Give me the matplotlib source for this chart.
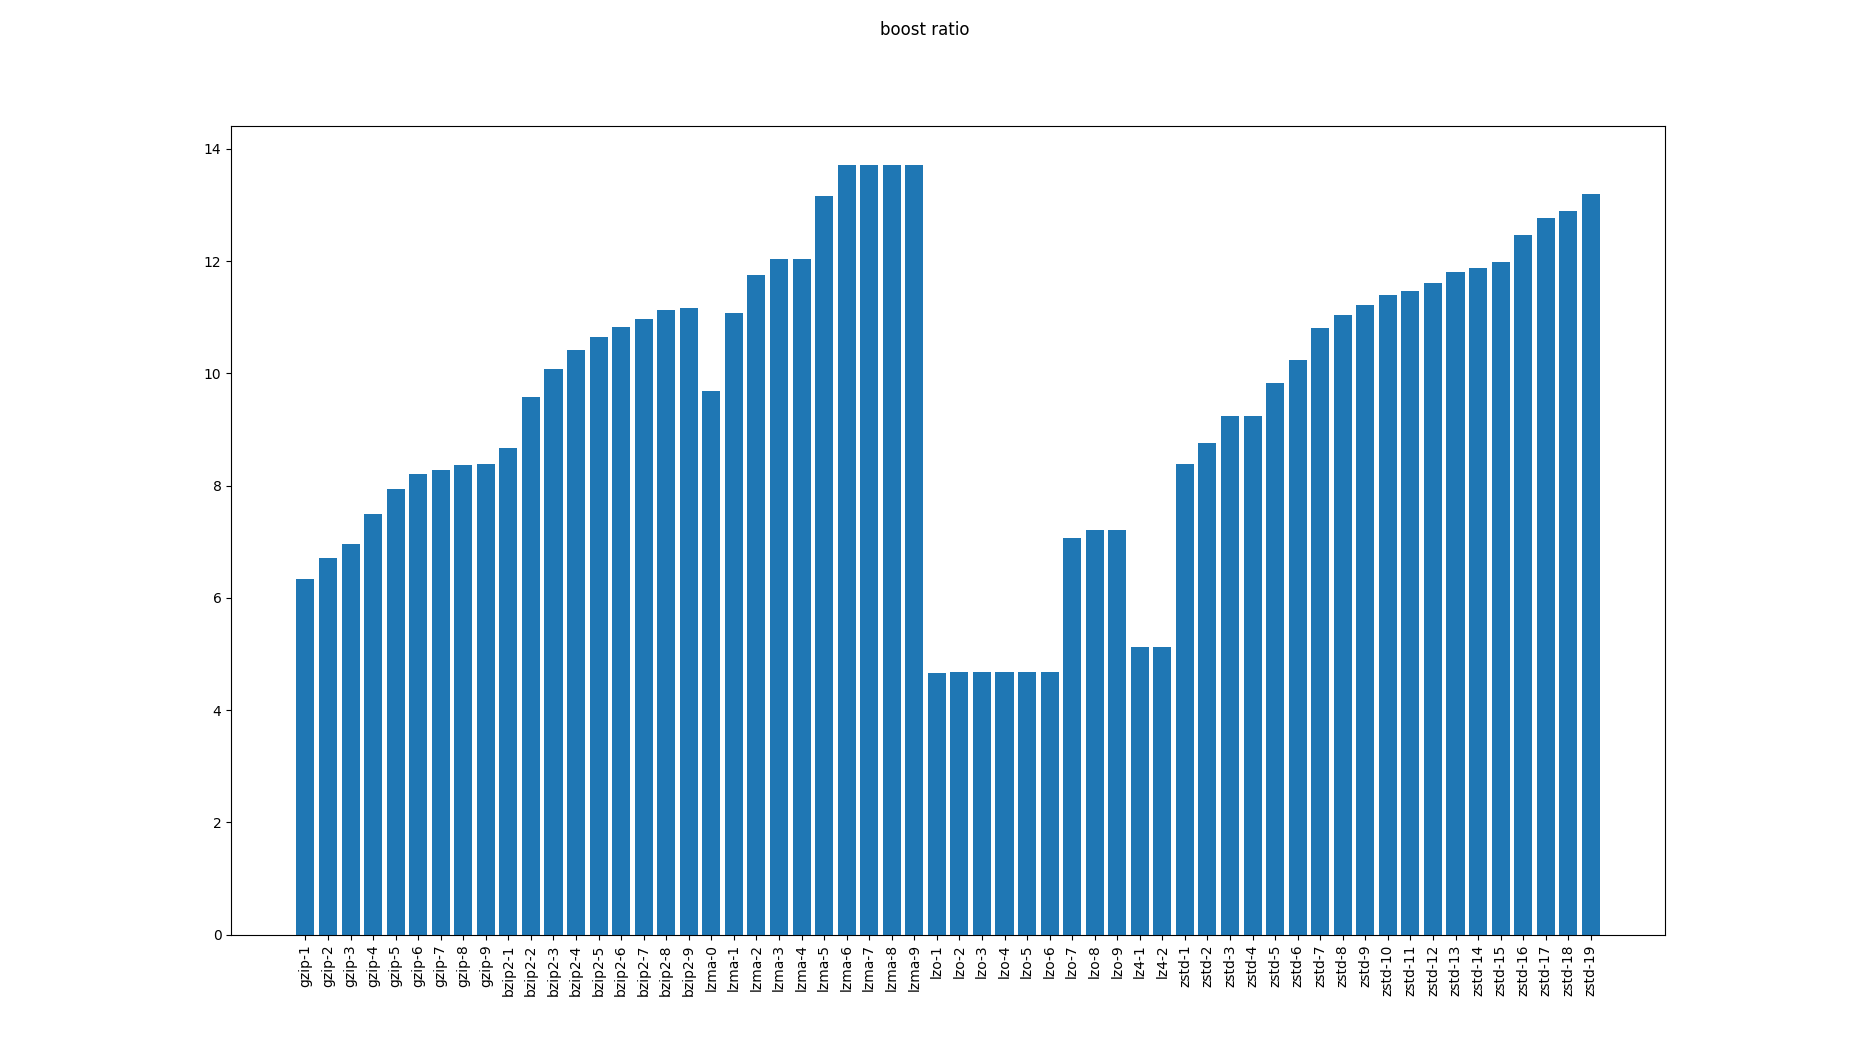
import matplotlib
matplotlib.use('Agg')
import matplotlib.pyplot as plt

# compression settings and measured boost ratio
labels = (
    [f'gzip-{i}' for i in range(1, 10)]
    + [f'bzip2-{i}' for i in range(1, 10)]
    + [f'lzma-{i}' for i in range(0, 10)]
    + [f'lzo-{i}' for i in range(1, 10)]
    + ['lz4-1', 'lz4-2']
    + [f'zstd-{i}' for i in range(1, 20)]
)

gzip_ratio = [6.34, 6.70, 6.95, 7.50, 7.93, 8.21, 8.28, 8.37, 8.39]
bzip2_ratio = [8.66, 9.585, 10.08, 10.42, 10.64, 10.83, 10.96, 11.12, 11.17]
lzma_ratio = [9.69, 11.08, 11.76, 12.04, 12.04, 13.15, 13.72, 13.72, 13.72, 13.72]
lzo_ratio = [4.665, 4.68, 4.68, 4.68, 4.68, 4.68, 7.07, 7.20, 7.21]
lz4_ratio = [5.13, 5.13]
zstd_ratio = [8.39, 8.76, 9.23, 9.23, 9.83, 10.24, 10.80, 11.03, 11.22, 11.40,
              11.46, 11.60, 11.81, 11.87, 11.99, 12.47, 12.76, 12.90, 13.19]

ratios = gzip_ratio + bzip2_ratio + lzma_ratio + lzo_ratio + lz4_ratio + zstd_ratio

fig, ax = plt.subplots(figsize=(18.5, 10.5), dpi=100)
fig.suptitle('boost ratio')
ax.bar(labels, ratios)
plt.xticks(rotation=90)

plt.savefig('out.png')
